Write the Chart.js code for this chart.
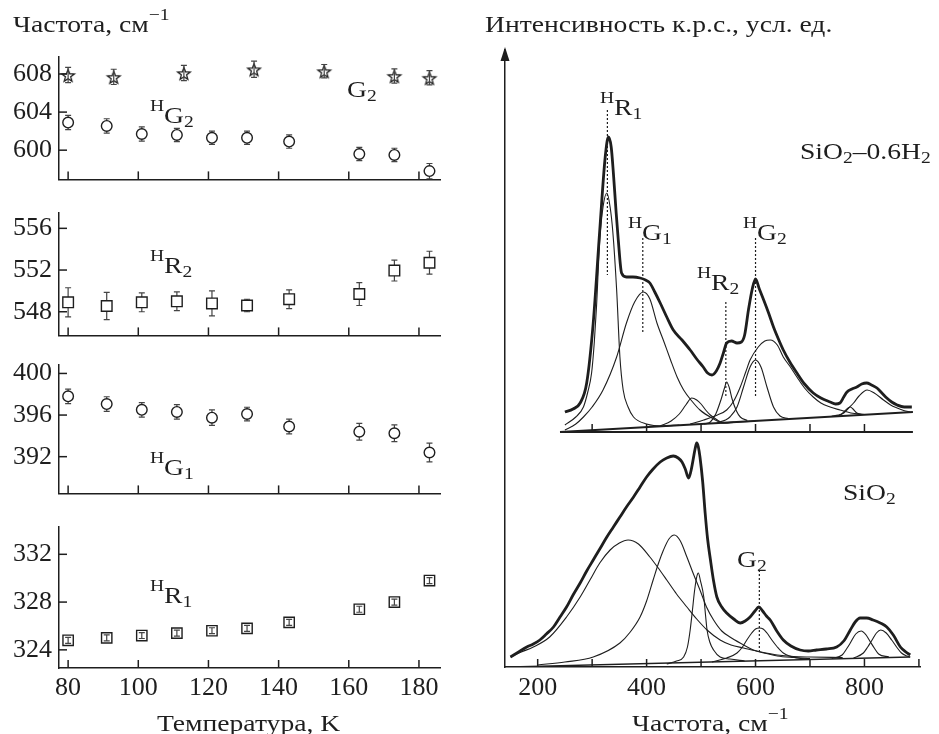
<!DOCTYPE html>
<html>
<head>
<meta charset="utf-8">
<script src="https://cdn.jsdelivr.net/npm/chart.js@4.4.1/dist/chart.umd.min.js"></script>
<style>
html, body { margin: 0; padding: 0; background: #fff; }
#wrap { position: relative; width: 939px; height: 734px; overflow: hidden; background: #fff; }
canvas { position: absolute; }
</style>
</head>
<body>
<div id="wrap">
  <canvas id="p1"></canvas>
  <canvas id="p2"></canvas>
  <canvas id="p3"></canvas>
  <canvas id="p4"></canvas>
  <canvas id="spec"></canvas>
  <canvas id="txt" width="939" height="734" style="left:0;top:0"></canvas>
</div>
<script>
const SERIF = '"Liberation Serif", "Times New Roman", serif'
const INK = '#1e1e1e'

// ---- left: mode frequency vs temperature ----
const tempTicks = [80, 100, 120, 140, 160, 180]
const tempG2 = [80, 93, 113, 133, 153, 173, 183]
const tempH = [80, 91, 101, 111, 121, 131, 143, 163, 173, 183]

const freqG2 = [607.9, 607.7, 608.1, 608.5, 608.3, 607.8, 607.6]
const errG2 = [0.8, 0.8, 0.8, 0.85, 0.7, 0.75, 0.75]
const freqHG2 = [602.9, 602.55, 601.7, 601.6, 601.3, 601.3, 600.9, 599.6, 599.5, 597.8]
const errHG2 = [0.75, 0.75, 0.75, 0.7, 0.7, 0.7, 0.7, 0.7, 0.7, 0.8]
const freqHR2 = [548.9, 548.55, 548.9, 549.0, 548.8, 548.6, 549.2, 549.7, 551.95, 552.7]
const errHR2 = [1.4, 1.3, 0.9, 0.9, 1.2, 0.6, 0.9, 1.1, 1.0, 1.1]
const freqHG1 = [397.8, 397.06, 396.5, 396.3, 395.75, 396.1, 394.9, 394.4, 394.25, 392.4]
const errHG1 = [0.7, 0.7, 0.7, 0.7, 0.75, 0.65, 0.7, 0.8, 0.8, 0.9]
const freqHR1 = [324.8, 325.0, 325.2, 325.4, 325.6, 325.8, 326.3, 327.4, 328.0, 329.8]
const errHR1 = [0.25, 0.25, 0.25, 0.25, 0.25, 0.25, 0.25, 0.25, 0.25, 0.25]

const ticksP1 = [600, 604, 608]
const ticksP2 = [548, 552, 556]
const ticksP3 = [392, 396, 400]
const ticksP4 = [324, 328, 332]

// ---- right: Raman spectra (wavenumber, intensity arb. units) ----
const ramanTicks = [200, 300, 400, 500, 600, 700, 800, 900]
const ramanLabelled = [200, 400, 600, 800]
const innerTicks = [300, 400, 500, 600, 700, 800]
const innerAxisX = [241, 889]
const innerLevel = 23.5

const specH2 = [[250,25.5],[265,25.8],[278,26.4],[290,28.4],[302,34.4],[314,43.7],[324,51.0],[330,53.0],[335,52.0],[339,49.4],[344,45.5],[348,42.7],[354,39.4],[363,39.0],[375,39.0],[388,38.9],[398,38.7],[406,38.4],[415,37.5],[425,36.4],[437,35.0],[449,33.7],[465,32.7],[480,31.7],[492,30.8],[504,30.0],[512,29.4],[520,29.2],[528,29.6],[535,30.4],[541,31.4],[547,32.4],[556,32.6],[566,32.4],[574,32.5],[580,33.2],[587,35.7],[594,37.8],[600,38.8],[607,37.8],[615,36.7],[624,35.4],[633,34.0],[642,32.8],[651,31.7],[663,30.5],[676,29.4],[690,28.3],[706,27.4],[720,26.9],[737,26.5],[747,26.3],[755,26.4],[762,27.0],[768,27.5],[777,27.8],[786,28.0],[795,28.3],[804,28.4],[813,28.2],[823,27.9],[832,27.4],[841,26.9],[850,26.5],[860,26.2],[873,26.0],[887,26.0]]
const fitH2R1 = [[250,24.2],[270,25.0],[284,26.0],[292,27.5],[299,29.4],[304,32.5],[308,36.0],[314,42.7],[320,46.0],[327,47.4],[333,46.0],[338,43.5],[345,37.7],[351,31.0],[357,27.7],[366,26.0],[376,25.0],[400,24.3],[430,24.1],[460,24.2]]
const fitH2G1 = [[250,23.7],[270,24.3],[284,25.0],[300,26.0],[320,27.7],[345,31.0],[363,34.4],[378,36.5],[394,37.5],[406,36.8],[419,34.4],[432,32.5],[444,30.7],[456,29.0],[468,27.7],[483,26.6],[498,25.7],[520,24.9],[541,24.4],[570,24.5],[600,24.6]]
const fitH2B485 = [[425,24.1],[445,24.6],[460,25.3],[472,26.2],[483,26.9],[492,26.7],[500,26.3],[510,25.6],[517,25.2],[530,24.7],[541,24.4],[560,24.5]]
const fitH2R2 = [[505,24.3],[517,24.5],[527,25.3],[537,26.8],[543,27.9],[547,28.5],[552,27.9],[557,26.8],[565,25.6],[572,25.0],[585,24.65]]
const fitH2G2 = [[530,24.45],[545,24.7],[553,25.0],[566,26.0],[578,28.0],[590,30.0],[600,30.7],[610,30.0],[621,28.0],[633,26.0],[645,25.1],[660,24.85]]
const fitH2B627 = [[480,24.3],[505,24.7],[530,25.2],[547,25.7],[560,26.6],[572,28.0],[582,29.5],[590,30.7],[605,32.0],[617,32.6],[627,32.7],[640,32.2],[651,31.0],[664,30.0],[676,29.0],[690,27.9],[706,27.0],[720,26.4],[737,26.0],[755,25.7],[775,25.4],[800,25.25]]
const fitH2B774 = [[748,25.05],[756,25.2],[764,25.6],[770,25.9],[774,26.0],[779,25.8],[786,25.4],[795,25.25]]
const fitH2B805 = [[740,25.1],[752,25.2],[762,25.4],[771,25.9],[780,26.4],[790,27.1],[805,27.7],[818,27.4],[835,26.7],[848,26.2],[860,25.9],[872,25.65],[884,25.5]]
const baseH2 = [[241,23.5],[889,25.5]]

const specSiO2 = [[150,1.0],[165,1.5],[180,2.0],[192,2.3],[204,2.7],[216,3.3],[229,4.0],[241,5.0],[253,6.0],[265,7.2],[278,8.4],[290,9.6],[302,10.7],[314,11.8],[327,13.0],[339,14.0],[351,15.0],[363,16.0],[376,17.0],[388,18.0],[400,19.0],[412,19.8],[425,20.5],[437,20.9],[449,21.1],[458,20.9],[465,20.5],[471,19.8],[477,18.9],[481,19.5],[485,20.6],[489,21.8],[492,22.4],[495,22.0],[498,21.0],[503,18.5],[507.5,15.4],[512,12.8],[517,10.8],[523,8.6],[529,7.0],[538,6.0],[547,5.4],[560,4.8],[572,4.4],[581,4.6],[590,5.0],[599,5.6],[606,6.0],[613,5.6],[620,5.1],[627,4.7],[639,3.6],[651,2.7],[665,2.1],[682,1.7],[697,1.6],[712,1.7],[730,1.8],[749,2.0],[762,2.6],[774,3.7],[783,4.5],[792,4.9],[804,4.9],[816,4.7],[829,4.4],[841,4.0],[853,3.2],[866,2.0],[876,1.5],[884,1.2]]
const fitS365 = [[150,1.0],[170,1.5],[192,2.0],[222,3.0],[253,5.0],[278,7.0],[296,8.7],[314,10.4],[333,11.7],[350,12.4],[366,12.7],[385,12.3],[406,11.0],[420,10.0],[437,8.7],[455,7.3],[474,6.0],[492,4.8],[511,3.7],[535,2.7],[555,2.2],[578,1.9],[610,1.5],[640,1.2],[670,1.05],[700,1.0],[760,0.95]]
const fitS451 = [[200,0.2],[250,0.5],[302,1.0],[351,2.4],[370,3.5],[388,5.0],[400,6.6],[412,8.7],[422,10.4],[431,11.7],[441,12.8],[451,13.2],[462,12.6],[474,11.0],[486,9.3],[498,7.7],[510,6.0],[523,4.7],[538,3.6],[553,3.0],[575,2.3],[596,1.7],[620,1.35],[640,1.1],[670,0.95],[700,0.85]]
const fitS495 = [[437,0.3],[455,0.6],[468,1.0],[475,2.0],[480,3.7],[484,5.6],[488,7.6],[492,9.0],[495,9.4],[499,8.6],[505,7.0],[508,5.3],[511,3.7],[516,2.5],[523,1.7],[535,1.0],[553,0.8],[580,0.6]]
const fitSG2 = [[520,0.5],[547,0.9],[566,1.4],[576,2.0],[584,2.7],[593,3.4],[600,3.8],[607,3.9],[614,3.8],[621,3.4],[630,2.7],[640,2.0],[651,1.4],[676,0.9],[700,0.8]]
const fitS794 = [[740,0.85],[759,1.2],[767,1.8],[774,2.4],[784,3.3],[794,3.6],[803,3.2],[811,2.5],[818,1.9],[826,1.3],[845,1.0]]
const fitS830 = [[780,0.9],[798,1.4],[806,2.0],[814,2.7],[822,3.4],[830,3.7],[840,3.4],[850,2.7],[859,2.0],[868,1.4],[878,1.1],[884,1.0]]
const baseSiO2 = [[150,0.0],[884,1.0]]

// dotted peak markers: [wavenumber, top, bottom]
const marksH2 = [[328,55.7,39.2],[393,42.9,33.4],[545.5,36.5,27.0],[600,42.9,26.9]]
const marksSiO2 = [[607,9.7,1.5]]


// ticks pointing into the plot
const inTicks = {
    id: 'inTicks',
    afterDraw(chart, args, opts){
        const ctx = chart.ctx, ca = chart.chartArea
        ctx.save()
        ctx.strokeStyle = INK
        ctx.lineWidth = 1.5
        const xs = chart.scales.x, ys = chart.scales.y
        xs.ticks.forEach(t => {
            const p = xs.getPixelForValue(t.value)
            ctx.beginPath(); ctx.moveTo(p, ca.bottom); ctx.lineTo(p, ca.bottom - 8); ctx.stroke()
        })
        if (opts.y){
            ys.ticks.forEach(t => {
                const p = ys.getPixelForValue(t.value)
                ctx.beginPath(); ctx.moveTo(ca.left, p); ctx.lineTo(ca.left + 8, p); ctx.stroke()
            })
        }
        ctx.restore()
    }
}

function drawErr(chart, over){
    const ctx = chart.ctx, ys = chart.scales.y
    chart.data.datasets.forEach((ds, i) => {
        if (!ds.errors || !!ds.errOver !== over) return
        const meta = chart.getDatasetMeta(i)
        ctx.save()
        ctx.strokeStyle = '#444'
        ctx.lineWidth = 1.2
        meta.data.forEach((pt, j) => {
            const v = ds.data[j].y, e = ds.errors[j]
            const y1 = ys.getPixelForValue(v + e), y2 = ys.getPixelForValue(v - e)
            ctx.beginPath()
            ctx.moveTo(pt.x, y1); ctx.lineTo(pt.x, y2)
            ctx.moveTo(pt.x - 3, y1); ctx.lineTo(pt.x + 3, y1)
            ctx.moveTo(pt.x - 3, y2); ctx.lineTo(pt.x + 3, y2)
            ctx.stroke()
        })
        ctx.restore()
    })
}

const errorBars = {
    id: 'errorBars',
    beforeDatasetsDraw(chart){ drawErr(chart, false) },
    afterDatasetsDraw(chart){ drawErr(chart, true) }
}

function starImage(r){
    const c = document.createElement('canvas')
    const s = Math.ceil(r * 2 + 4)
    c.width = s; c.height = s
    const g = c.getContext('2d')
    g.translate(s / 2, s / 2 + 1)
    g.beginPath()
    for (let i = 0; i < 10; i++){
        const rr = i % 2 ? r * 0.42 : r
        const a = -Math.PI / 2 + i * Math.PI / 5
        g.lineTo(rr * Math.cos(a), rr * Math.sin(a))
    }
    g.closePath()
    g.fillStyle = '#fff'; g.fill()
    g.strokeStyle = INK; g.lineWidth = 1.3; g.stroke()
    return c
}

function points(xs, ys, errs, style, radius, over){
    return {
        data: xs.map((x, i) => ({x: x, y: ys[i]})),
        errors: errs,
        errOver: over,
        showLine: false,
        pointStyle: style,
        pointRadius: radius,
        pointBorderWidth: 1.4,
        pointBorderColor: INK,
        pointBackgroundColor: '#fff',
        clip: false
    }
}

function panel(id, top, bottom, yMin, yMax, yTicks, datasets, showX){
    const padTop = 14, padBot = showX ? 0 : 4, xH = showX ? 46 : 0
    const cv = document.getElementById(id)
    cv.width = 470
    cv.height = bottom - top + padTop + padBot + xH
    cv.style.left = '0px'
    cv.style.top = (top - padTop) + 'px'
    return new Chart(cv, {
        type: 'line',
        data: {datasets: datasets},
        options: {
            responsive: false, animation: false, events: [],
            layout: {padding: {top: padTop, bottom: padBot, left: 0, right: 30}},
            plugins: {legend: {display: false}, tooltip: {enabled: false}, inTicks: {y: true}},
            scales: {
                x: {
                    type: 'linear', min: 77.4, max: 186,
                    grid: {display: false, drawTicks: false},
                    border: {display: true, color: INK, width: 1.5},
                    afterBuildTicks: s => { s.ticks = tempTicks.map(v => ({value: v})) },
                    ticks: {display: showX, autoSkip: false, maxRotation: 0, padding: 5, color: INK, font: {family: SERIF, size: 26}},
                    afterFit: s => { s.height = xH }
                },
                y: {
                    min: yMin, max: yMax,
                    grid: {display: false, drawTicks: false},
                    border: {display: true, color: INK, width: 1.5},
                    afterBuildTicks: s => { s.ticks = yTicks.map(v => ({value: v})) },
                    ticks: {padding: 7, color: INK, font: {family: SERIF, size: 26}},
                    afterFit: s => { s.width = 59 }
                }
            }
        },
        plugins: [inTicks, errorBars]
    })
}

const star = starImage(6.6)
panel('p1', 48, 198, 596.93, 609.83, ticksP1, [
    points(tempG2, freqG2, errG2, star, 6, true),
    points(tempH, freqHG2, errHG2, 'circle', 5.3, false)
], false)
panel('p2', 204, 354, 545.73, 557.51, ticksP2, [
    points(tempH, freqHR2, errHR2, 'rect', 7.5, false)
], false)
panel('p3', 356, 512, 388.47, 400.85, ticksP3, [
    points(tempH, freqHG1, errHG1, 'circle', 5.3, false)
], false)
panel('p4', 518, 668, 322.48, 334.32, ticksP4, [
    points(tempH, freqHR1, errHR1, 'rect', 7.3, true)
], true)


// ---- right chart ----
const arrowHead = {
    id: 'arrowHead',
    afterDraw(chart){
        const ctx = chart.ctx, ca = chart.chartArea
        ctx.save()
        ctx.fillStyle = INK
        ctx.beginPath()
        ctx.moveTo(ca.left, ca.top - 3)
        ctx.lineTo(ca.left - 4.5, ca.top + 11)
        ctx.lineTo(ca.left + 4.5, ca.top + 11)
        ctx.closePath()
        ctx.fill()
        ctx.restore()
    }
}

const innerAxis = {
    id: 'innerAxis',
    afterDatasetsDraw(chart){
        const ctx = chart.ctx, xs = chart.scales.x, ys = chart.scales.y
        const py = ys.getPixelForValue(innerLevel)
        ctx.save()
        ctx.strokeStyle = INK
        ctx.lineWidth = 2
        ctx.beginPath()
        ctx.moveTo(xs.getPixelForValue(innerAxisX[0]), py)
        ctx.lineTo(xs.getPixelForValue(innerAxisX[1]), py)
        ctx.stroke()
        ctx.lineWidth = 1.5
        innerTicks.forEach(v => {
            const px = xs.getPixelForValue(v)
            ctx.beginPath(); ctx.moveTo(px, py); ctx.lineTo(px, py - 8); ctx.stroke()
        })
        ctx.restore()
    }
}

function curve(pts, w){
    return {
        data: pts.map(p => ({x: p[0], y: p[1]})),
        borderColor: INK, borderWidth: w, pointRadius: 0, fill: false,
        cubicInterpolationMode: 'monotone'
    }
}
function dotted(m){
    return {
        data: [{x: m[0], y: m[1]}, {x: m[0], y: m[2]}],
        borderColor: INK, borderWidth: 1.2, borderDash: [2, 2], pointRadius: 0, fill: false
    }
}

const specSets = [
    curve(specH2, 2.8), curve(specSiO2, 2.8),
    curve(baseH2, 1.8), curve(baseSiO2, 1.4),
    ...[fitH2R1, fitH2G1, fitH2B485, fitH2R2, fitH2G2, fitH2B627, fitH2B774, fitH2B805].map(c => curve(c, 1.1)),
    ...[fitS365, fitS451, fitS495, fitSG2, fitS794, fitS830].map(c => curve(c, 1.1)),
    ...marksH2.map(dotted), ...marksSiO2.map(dotted)
]

const sc = document.getElementById('spec')
sc.width = 469; sc.height = 734
sc.style.left = '470px'; sc.style.top = '0px'
new Chart(sc, {
    type: 'line',
    data: {datasets: specSets},
    options: {
        responsive: false, animation: false, events: [],
        layout: {padding: {top: 50, right: 19, left: 0, bottom: 0}},
        plugins: {legend: {display: false}, tooltip: {enabled: false}, inTicks: {y: false}},
        scales: {
            x: {
                type: 'linear', min: 140, max: 902,
                grid: {display: false, drawTicks: false},
                border: {display: true, color: INK, width: 1.5},
                afterBuildTicks: s => { s.ticks = ramanTicks.map(v => ({value: v})) },
                ticks: {autoSkip: false, maxRotation: 0, padding: 6, color: INK, font: {family: SERIF, size: 26},
                        callback: v => ramanLabelled.includes(v) ? String(v) : ''},
                afterFit: s => { s.height = 67 }
            },
            y: {
                min: 0, max: 61.7,
                grid: {display: false, drawTicks: false},
                border: {display: true, color: INK, width: 1.5},
                ticks: {display: false},
                afterFit: s => { s.width = 35 }
            }
        }
    },
    plugins: [inTicks, arrowHead, innerAxis]
})


// ---- text: titles and peak labels (slightly widened serif, like the print face) ----
const WIDEN = 1.15
function drawText(ctx, x, base, parts, size){
    let cx = 0
    ctx.save()
    ctx.setTransform(WIDEN, 0, 0, 1, x, base)
    parts.forEach(p => {
        const small = p.s ? Math.round(size * 0.7) : size
        const dy = p.s === 'sup' ? -size * 0.52 : p.s === 'sub' ? size * 0.17 : 0
        ctx.font = small + 'px ' + SERIF
        ctx.fillText(p.t, cx, dy)
        cx += ctx.measureText(p.t).width
    })
    ctx.restore()
}
const H = t => ({t: t, s: 'sup'})
const N = t => ({t: t})
const L = t => ({t: t, s: 'sub'})

const tc = document.getElementById('txt').getContext('2d')
tc.fillStyle = INK
tc.textBaseline = 'alphabetic'
const texts = [
    [13, 32, [N('Частота, см'), {t: '−1', s: 'sup'}]],
    [157, 731, [N('Температура, K')]],
    [150, 123, [H('H'), N('G'), L('2')]],
    [347, 97, [N('G'), L('2')]],
    [150, 273, [H('H'), N('R'), L('2')]],
    [150, 475, [H('H'), N('G'), L('1')]],
    [150, 603, [H('H'), N('R'), L('1')]],
    [485, 32, [N('Интенсивность к.р.с., усл. ед.')]],
    [632, 731, [N('Частота, см'), {t: '−1', s: 'sup'}]],
    [600, 115, [H('H'), N('R'), L('1')]],
    [628, 240, [H('H'), N('G'), L('1')]],
    [697, 290, [H('H'), N('R'), L('2')]],
    [743, 240, [H('H'), N('G'), L('2')]],
    [800, 159, [N('SiO'), L('2'), N('–0.6H'), L('2')]],
    [843, 500, [N('SiO'), L('2')]],
    [737, 567, [N('G'), L('2')]]
]
texts.forEach(t => drawText(tc, t[0], t[1], t[2], 24))
</script>
</body>
</html>
